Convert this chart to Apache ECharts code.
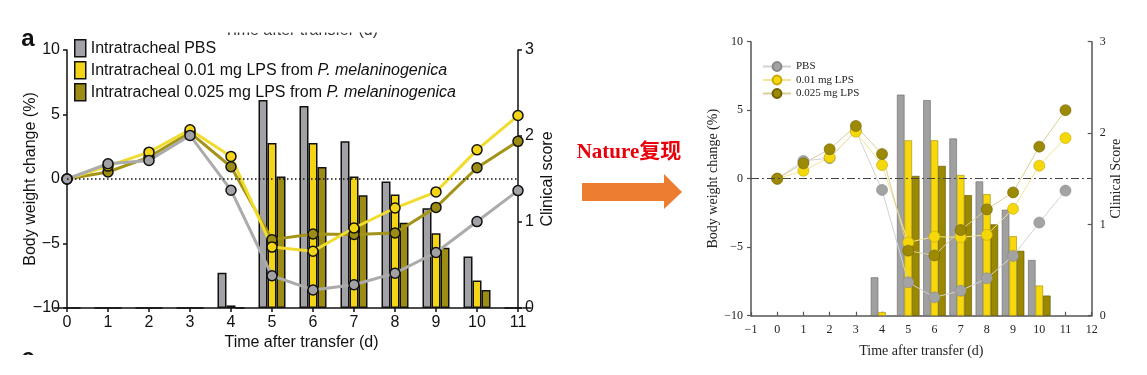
<!DOCTYPE html>
<html>
<head>
<meta charset="utf-8">
<title>Nature复现</title>
<script src="https://cdn.jsdelivr.net/npm/echarts@6/dist/echarts.min.js"></script>
<style>
html, body {margin: 0; padding: 0; background: #fff;}
#main {width: 1147px; height: 375px;}
</style>
</head>
<body>
<div id="main"></div>
<script>
let days = [0, 1, 2, 3, 4, 5, 6, 7, 8, 9, 10, 11];

// 原图 (左): clinical score 柱子
let scorePbsA = [0, 0, 0, 0, 0.41, 2.42, 2.35, 1.94, 1.47, 1.16, 0.60, 0];
let score001A = [0, 0, 0, 0, 0.03, 1.92, 1.92, 1.53, 1.32, 0.87, 0.32, 0];
let score0025A = [0, 0, 0, 0, 0, 1.53, 1.64, 1.31, 0.99, 0.70, 0.21, 0];
// 原图 (左): body weight change 折线
let weightPbsA = [0, 1.18, 1.43, 3.38, -0.87, -7.5, -8.6, -8.2, -7.3, -5.7, -3.3, -0.9];
let weight001A = [0, 1.0, 2.08, 3.82, 1.75, -5.28, -5.6, -3.8, -2.25, -1.0, 2.26, 4.92];
let weight0025A = [0, 0.54, 1.7, 3.6, 0.95, -4.7, -4.26, -4.3, -4.18, -2.2, 0.87, 2.92];

// 复现图 (右)
let scorePbsB = ['-', '-', '-', '-', 0.42, 2.42, 2.36, 1.94, 1.47, 1.16, 0.61, '-'];
let score001B = ['-', '-', '-', '-', 0.04, 1.92, 1.92, 1.54, 1.33, 0.87, 0.33, '-'];
let score0025B = ['-', '-', '-', '-', '-', 1.53, 1.64, 1.32, 1.0, 0.71, 0.22, '-'];
let weightPbsB = [0, 1.3, 1.5, 3.5, -0.82, -7.56, -8.66, -8.18, -7.27, -5.64, -3.2, -0.87];
let weight001B = [0, 0.58, 1.56, 3.43, 1.0, -4.65, -4.23, -4.28, -4.1, -2.2, 0.95, 2.97];
let weight0025B = [0, 1.12, 2.15, 3.85, 1.8, -5.25, -5.6, -3.75, -2.24, -1.0, 2.34, 5.0];

let legendA = ['Intratracheal PBS', 'Intratracheal 0.01 mg LPS from P. melaninogenica', 'Intratracheal 0.025 mg LPS from P. melaninogenica'];
let legendB = ['PBS', '0.01 mg LPS', '0.025 mg LPS'];

let sans = 'Liberation Sans, Arial, sans-serif';
let serif = 'Liberation Serif, Times New Roman, serif';

function pairs(arr) {
    return days.map(function (d, i) { return [d, arr[i]]; });
}
function minus(v) {
    return v < 0 ? '\u2212' + (-v) : String(v);
}

let chart = echarts.init(document.getElementById('main'));

// 左图坐标轴样式
let axA = {
    nameMoveOverlap: false,
    axisLine: {onZero: false, lineStyle: {color: '#111', width: 1.5}},
    axisTick: {show: true, length: 4, lineStyle: {color: '#111', width: 1.5}},
    axisLabel: {fontSize: 16, fontFamily: sans, color: '#111', margin: 7, formatter: minus},
    splitLine: {show: false}
};
// 右图坐标轴样式
let axB = {
    nameMoveOverlap: false,
    axisLine: {onZero: false, lineStyle: {color: '#555', width: 1.5}},
    axisTick: {show: true, inside: true, length: 4, lineStyle: {color: '#555', width: 1.2}},
    axisLabel: {fontSize: 12, fontFamily: serif, color: '#222', margin: 8, formatter: minus},
    splitLine: {show: false}
};

function barA(name, arr, color) {
    return {
        name: name, type: 'bar', xAxisIndex: 0, yAxisIndex: 1, data: pairs(arr),
        barWidth: 9, barGap: '0%', z: 2,
        itemStyle: {color: color, borderColor: '#111', borderWidth: 1.5}
    };
}
function lineA(name, arr, color, lineColor) {
    return {
        name: name, type: 'line', xAxisIndex: 0, yAxisIndex: 0, data: pairs(arr),
        symbol: 'circle', symbolSize: 10, z: 3,
        lineStyle: {color: lineColor, width: 3},
        itemStyle: {color: color, borderColor: '#111', borderWidth: 1.5}
    };
}
function barB(name, arr, color, border) {
    return {
        name: name, type: 'bar', xAxisIndex: 1, yAxisIndex: 3, data: pairs(arr),
        barWidth: 7.5, barGap: '0%', z: 2,
        itemStyle: {color: color, borderColor: border, borderWidth: 0.6}
    };
}
function lineB(name, arr, color, border, lineColor) {
    return {
        name: name, type: 'line', xAxisIndex: 1, yAxisIndex: 2, data: pairs(arr),
        symbol: 'circle', symbolSize: 11, z: 3,
        lineStyle: {color: lineColor, width: 1},
        itemStyle: {color: color, borderColor: border, borderWidth: 0.6}
    };
}

let seriesList = [
    barA(legendA[0], scorePbsA, '#a2a2a6'),
    barA(legendA[1], score001A, '#f4d516'),
    barA(legendA[2], score0025A, '#9d8c13'),
    lineA('w0025A', weight0025A, '#9d8c13', '#a39419'),
    lineA('w001A', weight001A, '#f4d516', '#f1dc2e'),
    lineA('wPbsA', weightPbsA, '#a2a2a6', '#ababab'),
    barB('sPbsB', scorePbsB, '#a0a0a0', '#666'),
    barB('s001B', score001B, '#f7d80d', '#a08c00'),
    barB('s0025B', score0025B, '#9a8800', '#5e5200'),
    lineB(legendB[0], weightPbsB, '#a3a3a3', '#888', '#d2d2d2'),
    lineB(legendB[1], weight001B, '#f5d80a', '#c8a800', '#f3e596'),
    lineB(legendB[2], weight0025B, '#9c8a05', '#6e6000', '#dccd98')
];
// 0 基准线
seriesList[5].markLine = {
    silent: true, symbol: 'none', label: {show: false},
    lineStyle: {color: '#111', type: [1.5, 2.5], width: 1.5},
    data: [{yAxis: 0}]
};
seriesList[9].markLine = {
    silent: true, symbol: 'none', label: {show: false},
    lineStyle: {color: '#444', type: [8, 3, 2, 3], width: 1.2},
    data: [{yAxis: 0}]
};

let option = {
    animation: false,
    backgroundColor: '#fff',
    grid: [
        {left: 67, top: 50, width: 451, height: 258},
        {left: 751, top: 41.7, width: 340.7, height: 274}
    ],
    legend: [{
        data: legendA, orient: 'vertical', left: 69, top: 34,
        icon: 'rect', itemWidth: 11, itemHeight: 17, itemGap: 3.5,
        itemStyle: {borderColor: '#111', borderWidth: 1.5},
        formatter: function (name) {
            let i = name.indexOf('P. melaninogenica');
            if (i < 0) return '{n|' + name + '}';
            return '{n|' + name.slice(0, i) + '}{i|P. melaninogenica}';
        },
        textStyle: {
            rich: {
                n: {fontSize: 16, lineHeight: 17, fontFamily: sans, color: '#111'},
                i: {fontSize: 16, lineHeight: 17, fontFamily: sans, color: '#111', fontStyle: 'italic'}
            }
        }
    }, {
        data: legendB, orient: 'vertical', left: 757, top: 56,
        itemWidth: 28, itemHeight: 11, itemGap: 2.5,
        textStyle: {fontSize: 11, fontFamily: serif, color: '#222'}
    }],
    xAxis: [
        Object.assign({}, axA, {
            gridIndex: 0, type: 'value', min: 0, max: 11, interval: 1,
            name: 'Time after transfer (d)', nameLocation: 'middle', nameGap: 27,
            nameTextStyle: {fontSize: 16, fontFamily: sans, color: '#111', padding: [0, 0, 0, 18]}
        }),
        Object.assign({}, axB, {
            gridIndex: 1, type: 'value', min: -1, max: 12, interval: 1,
            name: 'Time after transfer (d)', nameLocation: 'middle', nameGap: 29,
            nameTextStyle: {fontSize: 14, fontFamily: serif, color: '#222'}
        })
    ],
    yAxis: [
        Object.assign({}, axA, {
            gridIndex: 0, type: 'value', min: -10, max: 10, interval: 5, position: 'left',
            name: 'Body weight change (%)', nameLocation: 'middle', nameGap: 28,
            nameTextStyle: {fontSize: 16, fontFamily: sans, color: '#111'}
        }),
        Object.assign({}, axA, {
            gridIndex: 0, type: 'value', min: 0, max: 3, interval: 1, position: 'right',
            name: 'Clinical score', nameLocation: 'middle', nameGap: 22,
            nameTextStyle: {fontSize: 16, fontFamily: sans, color: '#111'}
        }),
        Object.assign({}, axB, {
            gridIndex: 1, type: 'value', min: -10, max: 10, interval: 5, position: 'left',
            axisTick: {show: true, length: 4, lineStyle: {color: '#555', width: 1.2}},
            name: 'Body weight change (%)', nameLocation: 'middle', nameGap: 31,
            nameTextStyle: {fontSize: 14, fontFamily: serif, color: '#222'}
        }),
        Object.assign({}, axB, {
            gridIndex: 1, type: 'value', min: 0, max: 3, interval: 1, position: 'right',
            name: 'Clinical Score', nameLocation: 'middle', nameGap: 18,
            nameTextStyle: {fontSize: 14, fontFamily: serif, color: '#222'}
        })
    ],
    series: seriesList,
    graphic: [
        // 原图裁剪残留文字
        {type: 'text', x: 301, y: 39, z: 10,
            style: {text: 'Time after transfer (d)', font: '16px ' + sans, fill: '#333',
                textAlign: 'center', textVerticalAlign: 'bottom', align: 'center', verticalAlign: 'bottom'}},
        {type: 'rect', z: 11, shape: {x: 150, y: 0, width: 300, height: 32.5}, style: {fill: '#fff'}},
        {type: 'text', x: 28, y: 39, z: 10,
            style: {text: 'a', font: 'bold 24px ' + sans, fill: '#111',
                textAlign: 'center', textVerticalAlign: 'middle', align: 'center', verticalAlign: 'middle'}},
        {type: 'text', x: 28, y: 346, z: 10,
            style: {text: 'c', font: 'bold 24px ' + sans, fill: '#111',
                textAlign: 'center', textVerticalAlign: 'top', align: 'center', verticalAlign: 'top'}},
        {type: 'rect', z: 11, shape: {x: 0, y: 355, width: 60, height: 20}, style: {fill: '#fff'}},
        // 中间箭头和标题
        {type: 'text', x: 629, y: 153, z: 10,
            style: {text: 'Nature复现', font: 'bold 21px Liberation Serif, Noto Sans CJK SC, serif', fill: '#e8000b',
                textAlign: 'center', textVerticalAlign: 'middle', align: 'center', verticalAlign: 'middle'}},
        {type: 'polygon', z: 10,
            shape: {points: [[582, 183], [664, 183], [664, 174], [682, 192], [664, 209], [664, 201], [582, 201]]},
            style: {fill: '#ed7d31'}}
    ]
};

chart.setOption(option);
</script>
</body>
</html>
